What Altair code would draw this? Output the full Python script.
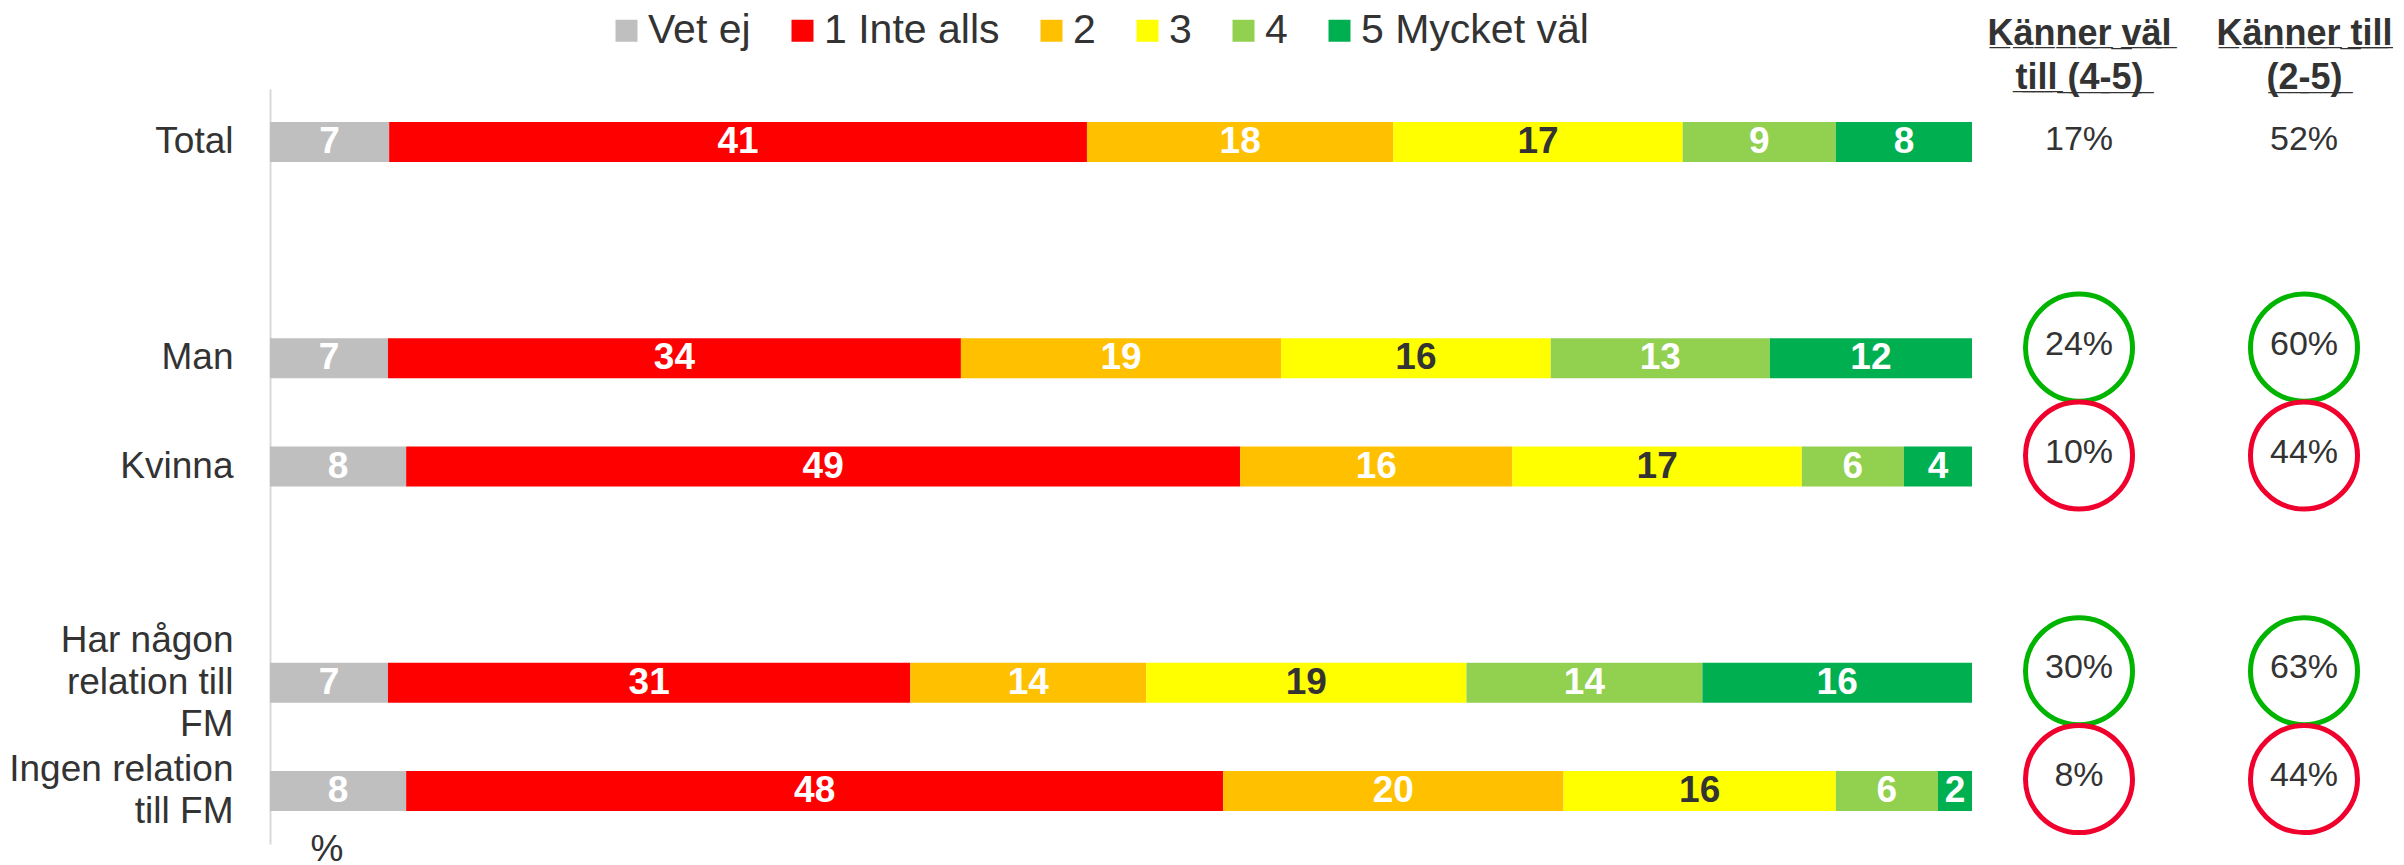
import altair as alt
import pandas as pd
import json

# ---------------- data ----------------
groups = ["Total", "Man", "Kvinna", "Har någon|relation till|FM", "Ingen relation|till FM"]
y_domain = ["Total", " ", "Man", "Kvinna", "  ", "Har någon|relation till|FM", "Ingen relation|till FM"]

categories = ["Vet ej", "1 Inte alls", "2", "3", "4", "5 Mycket väl"]
cat_colors = ["#BFBFBF", "#FF0000", "#FFC000", "#FFFF00", "#92D050", "#00B050"]

vet_ej = [7, 7, 8, 7, 8]
inte_alls = [41, 34, 49, 31, 48]
val_2 = [18, 19, 16, 14, 20]
val_3 = [17, 16, 17, 19, 16]
val_4 = [9, 13, 6, 14, 6]
mycket_val = [8, 12, 4, 16, 2]

kanner_val = [17, 24, 10, 30, 8]      # Känner väl till (4-5)
kanner_till = [52, 60, 44, 63, 44]    # Känner till (2-5)
status = ["total", "high", "low", "high", "low"]

col_names = ["Känner väl|till (4-5)", "Känner till|(2-5)"]

# ---------------- tables ----------------
series = [vet_ej, inte_alls, val_2, val_3, val_4, mycket_val]
rows = []
for ci, (cat, vals) in enumerate(zip(categories, series)):
    for g, v in zip(groups, vals):
        rows.append({"group": g, "category": cat, "value": v, "order": ci})
df = pd.DataFrame(rows)

trows = []
for g, a, b, s in zip(groups, kanner_val, kanner_till, status):
    trows.append({"group": g, "col": col_names[0], "value": a, "status": s})
    trows.append({"group": g, "col": col_names[1], "value": b, "status": s})
tdf = pd.DataFrame(trows)

FONT = "Liberation Sans"
TXT = "#333333"
H = 755
LH = 42

def underline(s):
    return "".join(c + "\u0332" for c in s)

header_map = {c: [underline(p) for p in c.split("|")] for c in col_names}
header_expr = " : ".join(
    [f"datum.label == {json.dumps(k)} ? {json.dumps(v, ensure_ascii=False)}" for k, v in header_map.items()]
) + " : datum.label"

y_scale = alt.Scale(domain=y_domain, paddingInner=0.63, paddingOuter=0.305)

# multi-line labels are centred on their row
label_offset = {
    "condition": [
        {"test": "length(split(datum.label, '|')) == 3", "value": -LH},
        {"test": "length(split(datum.label, '|')) == 2", "value": -LH / 2},
    ],
    "value": 0,
}

# ---------------- bar chart ----------------
base = alt.Chart(df)

bars = base.mark_bar().encode(
    y=alt.Y("group:N", scale=y_scale, title=None,
            axis=alt.Axis(labelExpr="split(datum.label, '|')", labelFontSize=37, labelColor=TXT,
                          labelPadding=37, labelLineHeight=LH, labelLimit=500, ticks=False,
                          labelOffset=label_offset,
                          domainColor="#D9D9D9", domainWidth=2, grid=False)),
    x=alt.X("value:Q", stack="normalize", scale=alt.Scale(domain=[0, 1], nice=False),
            axis=alt.Axis(labels=False, ticks=False, domain=False, grid=False, title="%",
                          titleFontSize=37, titleFontWeight="normal", titleColor=TXT,
                          titleX=40, titleY=16, titleAlign="left", titleBaseline="alphabetic")),
    color=alt.Color("category:N", scale=alt.Scale(domain=categories, range=cat_colors),
                    sort=categories,
                    legend=alt.Legend(orient="none", legendX=336, legendY=-79, direction="horizontal",
                                      title=None, symbolType="square", symbolSize=484,
                                      symbolStrokeWidth=0, symbolOpacity=1, labelFontSize=41,
                                      labelColor=TXT, labelOffset=1, columnPadding=31,
                                      labelLimit=500)),
    order=alt.Order("order:Q"),
)

labels = base.transform_joinaggregate(
    total="sum(value)", groupby=["group"]
).transform_window(
    cum="sum(value)", sort=[alt.SortField("order")], groupby=["group"], frame=[None, 0]
).transform_calculate(
    mid="(datum.cum - datum.value / 2) / datum.total"
).mark_text(fontSize=37, fontWeight="bold", baseline="middle", align="center").encode(
    y=alt.Y("group:N", scale=y_scale),
    x=alt.X("mid:Q"),
    text=alt.Text("value:Q"),
    color=alt.condition(alt.datum.category == "3", alt.value(TXT), alt.value("white")),
)

bar_chart = alt.layer(bars, labels).properties(width=1702, height=H)

# ---------------- right table ----------------
tbase = alt.Chart(tdf).transform_calculate(label="datum.value + '%'")
x_t = alt.X("col:N", scale=alt.Scale(type="point", domain=col_names, range=[107, 332], padding=0),
            title=None,
            axis=alt.Axis(orient="top", labelExpr=header_expr, labelFontSize=36, labelFontWeight="bold",
                          labelColor=TXT, labelLineHeight=44, labelPadding=45, labelBaseline="alphabetic",
                          labelAngle=0, ticks=False, domain=False, grid=False, labelLimit=500))
y_t = alt.Y("group:N", scale=y_scale, axis=None)

circles = tbase.transform_filter(alt.datum.status != "total").mark_point(
    shape="circle", filled=False, size=11450, strokeWidth=5, opacity=1, yOffset=-11
).encode(
    x=x_t, y=y_t,
    color=alt.Color("status:N", scale=alt.Scale(domain=["high", "low"], range=["#00B400", "#F0002D"]),
                    legend=None),
)
circ_text = tbase.transform_filter(alt.datum.status != "total").mark_text(
    fontSize=34, color=TXT, dy=-14, baseline="middle"
).encode(x=x_t, y=y_t, text="label:N")
total_text = tbase.transform_filter(alt.datum.status == "total").mark_text(
    fontSize=34, color=TXT, dy=-3, baseline="middle"
).encode(x=x_t, y=y_t, text="label:N")

table_chart = alt.layer(circles, circ_text, total_text).properties(width=410, height=H)

chart = alt.hconcat(bar_chart, table_chart, spacing=0).resolve_scale(
    color="independent"
).resolve_legend(color="independent").properties(
    padding={"top": 2, "bottom": 0, "left": 0, "right": 0}
).configure(
    font=FONT
).configure_view(strokeWidth=0)

chart.save("out.html", embed_options={"renderer": "svg", "actions": False})
